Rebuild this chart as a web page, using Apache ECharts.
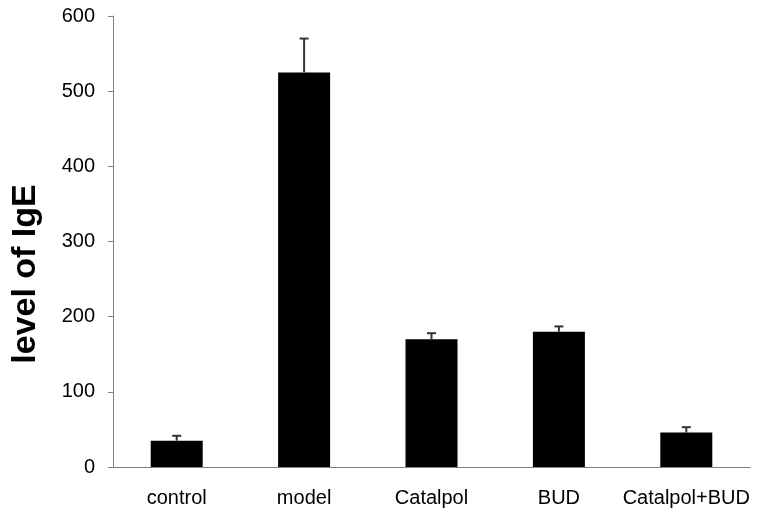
<!DOCTYPE html>
<html>
<head>
<meta charset="utf-8">
<script src="https://cdn.jsdelivr.net/npm/echarts@6/dist/echarts.min.js"></script>
<style>html,body{margin:0;padding:0;background:#fff;}#c{width:760px;height:509px;}</style>
</head>
<body>
<div id="c"></div>
<script>
var categories = ['control', 'model', 'Catalpol', 'BUD', 'Catalpol+BUD'];
var means = [35, 525, 170, 180, 46];
var errors = [6.5, 45, 8, 7, 7];
var yTicks = [0, 100, 200, 300, 400, 500, 600];

var chart = echarts.init(document.getElementById('c'));
var errData = means.map(function (m, i) { return [i, m, m + errors[i]]; });

chart.setOption({
  animation: false,
  backgroundColor: '#fff',
  grid: { left: 113, right: 10, top: 16, bottom: 42 },
  xAxis: {
    type: 'category',
    data: categories,
    axisLine: { lineStyle: { color: '#808080', width: 1 } },
    axisTick: { show: false },
    axisLabel: { interval: 0, color: '#000', fontFamily: 'Liberation Sans, Arial, sans-serif', fontSize: 20, margin: 21 }
  },
  yAxis: {
    type: 'value',
    min: yTicks[0],
    max: yTicks[yTicks.length - 1],
    interval: 100,
    splitLine: { show: false },
    axisLine: { show: true, lineStyle: { color: '#808080', width: 1 } },
    axisTick: { show: true, inside: false, length: 5, lineStyle: { color: '#808080' } },
    axisLabel: { color: '#000', fontFamily: 'Liberation Sans, Arial, sans-serif', fontSize: 20, margin: 18 }
  },
  graphic: [{
    type: 'text',
    x: 26, y: 274,
    rotation: Math.PI / 2,
    style: {
      text: 'level of IgE',
      fill: '#000',
      font: 'bold 34px "Liberation Sans", Arial, sans-serif',
      align: 'center',
      verticalAlign: 'middle'
    }
  }],
  series: [{
    type: 'bar',
    data: means,
    barWidth: 52,
    itemStyle: { color: '#000' },
    z: 2
  }, {
    type: 'custom',
    data: errData,
    z: 3,
    renderItem: function (params, api) {
      var x = api.value(0);
      var p0 = api.coord([x, api.value(1)]);
      var p1 = api.coord([x, api.value(2)]);
      var hw = 4.5;
      return {
        type: 'group',
        children: [{
          type: 'line',
          shape: { x1: p0[0], y1: p0[1], x2: p1[0], y2: p1[1] },
          style: { stroke: '#333', lineWidth: 2 }
        }, {
          type: 'line',
          shape: { x1: p1[0] - hw, y1: p1[1], x2: p1[0] + hw, y2: p1[1] },
          style: { stroke: '#333', lineWidth: 2 }
        }]
      };
    }
  }]
});
</script>
</body>
</html>
